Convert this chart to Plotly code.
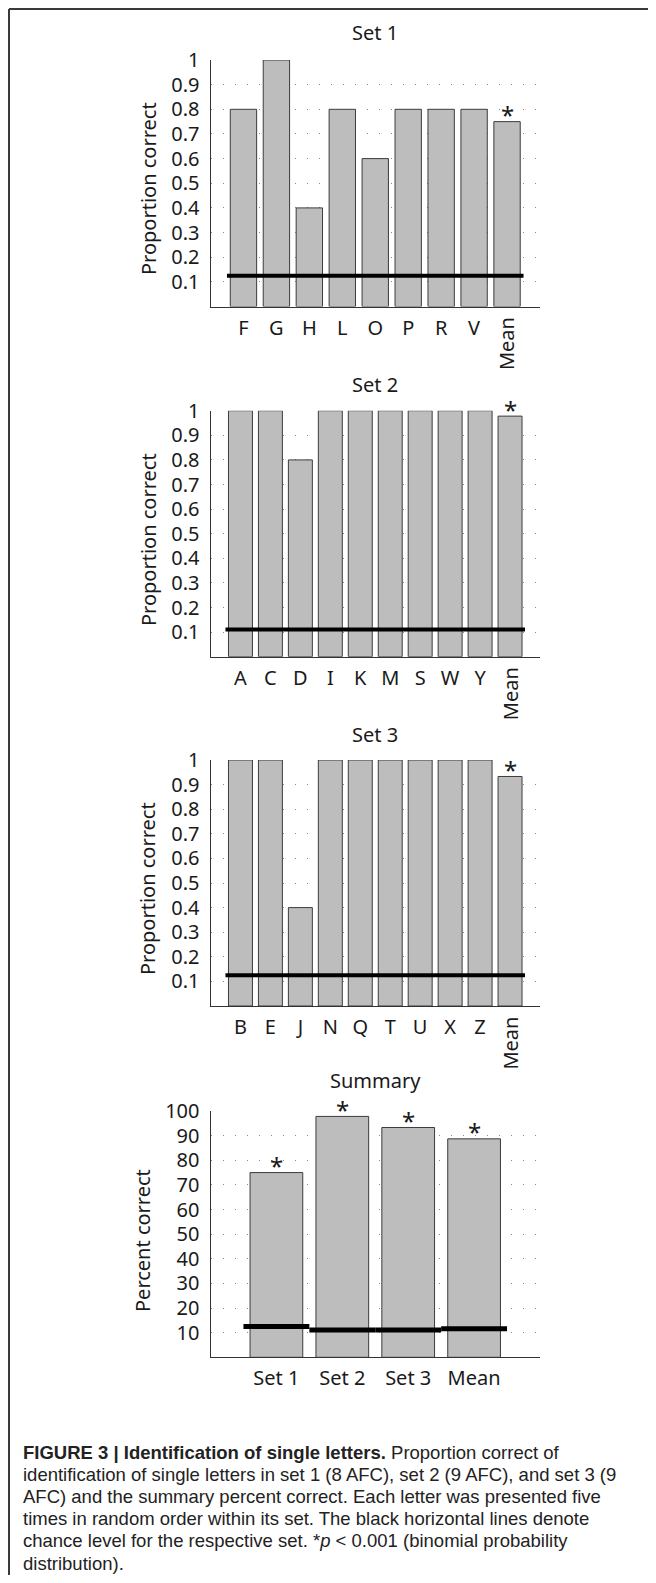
import plotly.graph_objects as go

# ---------------- data ----------------
set1_letters = ["F", "G", "H", "L", "O", "P", "R", "V", "Mean"]
set1_values = [0.8, 1.0, 0.4, 0.8, 0.6, 0.8, 0.8, 0.8, 0.75]
set1_chance = 0.125

set2_letters = ["A", "C", "D", "I", "K", "M", "S", "W", "Y", "Mean"]
set2_values = [1.0, 1.0, 0.8, 1.0, 1.0, 1.0, 1.0, 1.0, 1.0, 0.978]
set2_chance = 0.111

set3_letters = ["B", "E", "J", "N", "Q", "T", "U", "X", "Z", "Mean"]
set3_values = [1.0, 1.0, 0.4, 1.0, 1.0, 1.0, 1.0, 1.0, 1.0, 0.933]
set3_chance = 0.125

summary_labels = ["Set 1", "Set 2", "Set 3", "Mean"]
summary_values = [75.0, 97.8, 93.3, 88.7]
summary_chance = [12.5, 11.1, 11.1, 11.6]

prop_ticks = [0.1, 0.2, 0.3, 0.4, 0.5, 0.6, 0.7, 0.8, 0.9, 1.0]
prop_ticktext = ["0.1", "0.2", "0.3", "0.4", "0.5", "0.6", "0.7", "0.8", "0.9", "1"]
pct_ticks = [10, 20, 30, 40, 50, 60, 70, 80, 90, 100]
pct_ticktext = ["10", "20", "30", "40", "50", "60", "70", "80", "90", "100"]

panel_titles = ["Set 1", "Set 2", "Set 3", "Summary"]

caption_lines = [
    "<b>FIGURE 3 | Identification of single letters.</b> Proportion correct of",
    "identification of single letters in set 1 (8 AFC), set 2 (9 AFC), and set 3 (9",
    "AFC) and the summary percent correct. Each letter was presented five",
    "times in random order within its set. The black horizontal lines denote",
    "chance level for the respective set. *<i>p</i> &lt; 0.001 (binomial probability",
    "distribution).",
]

# ---------------- layout helpers ----------------
PAGE_W, PAGE_H = 656, 1583
OFF = 8                      # default page body margin
W, H = PAGE_W - 2 * OFF, PAGE_H - 2 * OFF
FONT = "Noto Sans, Open Sans, sans-serif"
TXT = "#1a1a1a"
BAR_FILL = "#bdbdbd"
BAR_EDGE = "#3c3c3c"


def px_x(p):
    return (p - OFF) / W


def px_y(p):
    return 1 - (p - OFF) / H


# pixel boxes of plotting areas in page pixels: (top, bottom)
x_left, x_right = 210.5, 540.0
boxes = [(60.0, 306.5), (410.7, 656.7), (760.0, 1006.0), (1111.0, 1357.3)]
title_y = [33, 385, 735, 1080]
ytitle_y = [189, 540, 889, 1241]
ytitle_x = [148, 148, 148, 142]

fig = go.Figure()

letter_sets = [
    (set1_letters, set1_values, set1_chance),
    (set2_letters, set2_values, set2_chance),
    (set3_letters, set3_values, set3_chance),
]

annotations = []
STAR_SHIFT = 7


def star(xa, ya, x, y):
    return dict(x=x, y=y, xref=xa, yref=ya, text="*", showarrow=False,
                xanchor="center", yanchor="middle", yshift=STAR_SHIFT,
                borderpad=0,
                font=dict(family=FONT, size=24, color=TXT))


for i, (letters, values, chance) in enumerate(letter_sets, start=1):
    n = len(letters)
    xs = list(range(1, n + 1))
    xa, ya = f"x{i}", f"y{i}"
    fig.add_trace(go.Bar(
        x=xs, y=values, width=0.8, xaxis=xa, yaxis=ya,
        marker=dict(color=BAR_FILL, line=dict(color=BAR_EDGE, width=1)),
        showlegend=False, hoverinfo="skip"))
    fig.add_trace(go.Scatter(
        x=[0.5, n + 0.5], y=[chance, chance], mode="lines", xaxis=xa, yaxis=ya,
        line=dict(color="black", width=4), showlegend=False, hoverinfo="skip"))
    annotations.append(star(xa, ya, n, values[-1]))
    # rotated "Mean" tick label
    annotations.append(dict(
        x=n, y=0, xref=xa, yref=ya, text=letters[-1], textangle=-90,
        showarrow=False, xanchor="center", yanchor="top", yshift=-9,
        font=dict(family=FONT, size=20, color=TXT)))

# summary panel
ns = len(summary_labels)
xs = list(range(1, ns + 1))
fig.add_trace(go.Bar(
    x=xs, y=summary_values, width=0.8, xaxis="x4", yaxis="y4",
    marker=dict(color=BAR_FILL, line=dict(color=BAR_EDGE, width=1)),
    showlegend=False, hoverinfo="skip"))
for k, c in enumerate(summary_chance):
    fig.add_trace(go.Scatter(
        x=[xs[k] - 0.5, xs[k] + 0.5], y=[c, c], mode="lines", xaxis="x4", yaxis="y4",
        line=dict(color="black", width=5), showlegend=False, hoverinfo="skip"))
for k, v in enumerate(summary_values):
    annotations.append(star("x4", "y4", xs[k], v))

# axes
layout = dict(
    template="none",
    width=W, height=H, margin=dict(l=0, r=0, t=0, b=0, pad=0, autoexpand=False),
    paper_bgcolor="white", plot_bgcolor="white", showlegend=False,
    font=dict(family=FONT, size=20, color=TXT),
)

xcats = [set1_letters, set2_letters, set3_letters, summary_labels]
for i in range(1, 5):
    top, bot = boxes[i - 1]
    cats = xcats[i - 1]
    n = len(cats)
    ticktext = list(cats[:-1]) + [""] if i < 4 else list(cats)
    layout[f"xaxis{i}"] = dict(
        domain=[px_x(x_left), px_x(x_right)], range=[0, n + 1], anchor=f"y{i}",
        tickvals=list(range(1, n + 1)), ticktext=ticktext, ticks="",
        showgrid=False, zeroline=False, showline=True, linecolor="#333333",
        linewidth=1, ticklabelstandoff=3, fixedrange=True, automargin=False,
        tickfont=dict(family=FONT, size=20, color=TXT))
    if i < 4:
        yr, tv, tt = [0, 1], prop_ticks, prop_ticktext
    else:
        yr, tv, tt = [0, 100], pct_ticks, pct_ticktext
    layout[f"yaxis{i}"] = dict(
        domain=[px_y(bot), px_y(top)], range=yr, anchor=f"x{i}",
        tickvals=tv, ticktext=tt, ticks="", showgrid=True,
        gridcolor="#8a8a8a", gridwidth=1, griddash="1px,11px",
        zeroline=False, showline=True, linecolor="#333333", linewidth=1,
        ticklabelstandoff=6, fixedrange=True, automargin=False,
        tickfont=dict(family=FONT, size=20, color=TXT))
    annotations.append(dict(
        x=px_x((x_left + x_right) / 2), y=px_y(title_y[i - 1]), xref="paper",
        yref="paper", text=panel_titles[i - 1], showarrow=False,
        xanchor="center", yanchor="middle", borderpad=0,
        font=dict(family=FONT, size=20, color=TXT)))
    annotations.append(dict(
        x=px_x(ytitle_x[i - 1]), y=px_y(ytitle_y[i - 1]), xref="paper",
        yref="paper", text="Proportion correct" if i < 4 else "Percent correct",
        textangle=-90, showarrow=False, xanchor="center", yanchor="middle",
        font=dict(family=FONT, size=20, color=TXT)))

# caption
cap_top = 1452
cap_step = 22.2
for j, line in enumerate(caption_lines):
    annotations.append(dict(
        x=px_x(22), y=px_y(cap_top + j * cap_step), xref="paper", yref="paper",
        text=line, showarrow=False, xanchor="left", yanchor="middle",
        borderpad=0,
        font=dict(family="Liberation Sans, Arial, sans-serif", size=18.5,
                  color="#222222")))

layout["annotations"] = annotations
layout["shapes"] = [
    dict(type="line", xref="paper", yref="paper", x0=px_x(9), x1=1,
         y0=px_y(9), y1=px_y(9), line=dict(color="#3a3a3a", width=2)),
    dict(type="line", xref="paper", yref="paper", x0=px_x(9), x1=px_x(9),
         y0=px_y(9), y1=0, line=dict(color="#3a3a3a", width=2)),
]

fig.update_layout(**layout)
fig.write_html("out.html")
